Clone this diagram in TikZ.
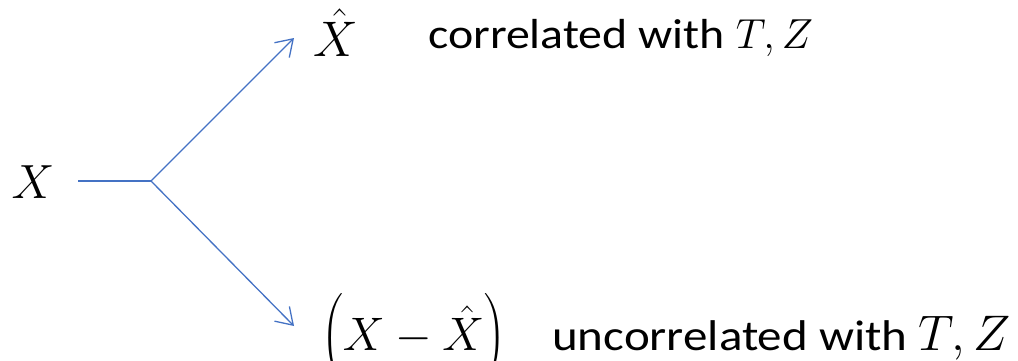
\documentclass[tikz,border=0pt]{standalone}
\usepackage{fix-cm}
\usepackage{amsmath}
\usepackage{fontspec}
\setmainfont{Carlito}[FakeStretch=1.14]
\usetikzlibrary{arrows.meta}
\definecolor{lineblue}{RGB}{68,114,196}
\begin{document}
\begin{tikzpicture}[x=1pt,y=-1pt,
  conn/.style={draw=lineblue, line width=1.3pt},
  arr/.style={conn, -{Straight Barb[length=16pt,width=21pt,line width=1.3pt]}},
  mathlbl/.style={inner sep=0pt},
  txtlbl/.style={inner sep=0pt, anchor=base west}]
\useasboundingbox (0,0) rectangle (1018,360);
\node[mathlbl, anchor=base, font=\fontsize{48}{58}\selectfont] (x) at (33,198) {$X$};
\node[mathlbl, anchor=base, font=\fontsize{50}{60}\selectfont] (xhat) at (336,56) {$\hat{X}$};
\node[mathlbl, anchor=base west, font=\fontsize{47}{57}\selectfont] (resid) at (321,350) {$\Bigl(X-\hat{X}\Bigr)$};
\node[txtlbl, font=\fontsize{42}{50}\selectfont] (corr) at (428,48) {correlated with {\fontsize{42}{50}\selectfont$T,Z$}};
\node[txtlbl, font=\fontsize{43}{52}\selectfont] (uncorr) at (552,350) {uncorrelated with {\fontsize{50}{60}\selectfont$T,Z$}};
\coordinate (start) at (78,181);
\coordinate (branch) at (151,181);
\coordinate (tipup) at (294,38);
\coordinate (tipdown) at (294,326);
\draw[conn] (start) -- (branch);
\draw[arr] (branch) -- (tipup);
\draw[arr] (branch) -- (tipdown);
\end{tikzpicture}
\end{document}
